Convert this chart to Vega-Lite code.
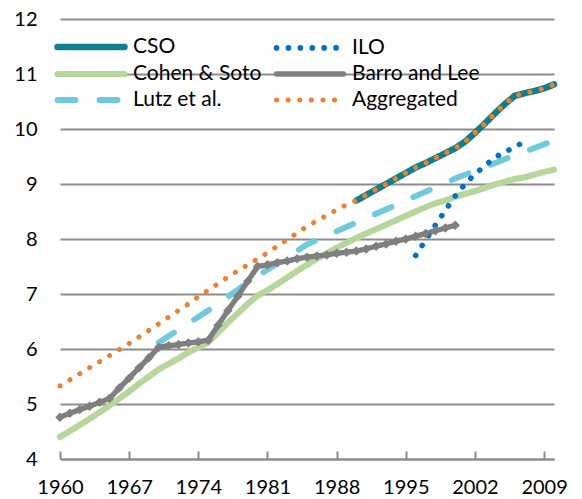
{
  "$schema": "https://vega.github.io/schema/vega-lite/v6.json",
  "width": 494,
  "height": 440,
  "autosize": "none",
  "padding": {"left": 60, "top": 19, "right": 28, "bottom": 40},
  "config": {
    "view": {"stroke": null},
    "font": "Lato",
    "legend": {
      "orient": "none",
      "legendX": -5,
      "legendY": 16,
      "columns": 2,
      "symbolType": "stroke",
      "symbolSize": 400,
      "symbolStrokeWidth": 5,
      "labelFontSize": 21,
      "labelFont": "Lato",
      "labelColor": "#000000",
      "labelLimit": 300,
      "labelOffset": 6,
      "columnPadding": 3,
      "rowPadding": 1,
      "padding": 0
    }
  },
  "data": {
    "values": [
      {"series": "Cohen & Soto", "year": 1960, "value": 4.40},
      {"series": "Cohen & Soto", "year": 1961, "value": 4.51},
      {"series": "Cohen & Soto", "year": 1962, "value": 4.62},
      {"series": "Cohen & Soto", "year": 1963, "value": 4.73},
      {"series": "Cohen & Soto", "year": 1964, "value": 4.85},
      {"series": "Cohen & Soto", "year": 1965, "value": 4.97},
      {"series": "Cohen & Soto", "year": 1966, "value": 5.10},
      {"series": "Cohen & Soto", "year": 1967, "value": 5.23},
      {"series": "Cohen & Soto", "year": 1968, "value": 5.37},
      {"series": "Cohen & Soto", "year": 1969, "value": 5.50},
      {"series": "Cohen & Soto", "year": 1970, "value": 5.63},
      {"series": "Cohen & Soto", "year": 1971, "value": 5.73},
      {"series": "Cohen & Soto", "year": 1972, "value": 5.83},
      {"series": "Cohen & Soto", "year": 1973, "value": 5.94},
      {"series": "Cohen & Soto", "year": 1974, "value": 6.03},
      {"series": "Cohen & Soto", "year": 1975, "value": 6.12},
      {"series": "Cohen & Soto", "year": 1976, "value": 6.30},
      {"series": "Cohen & Soto", "year": 1977, "value": 6.48},
      {"series": "Cohen & Soto", "year": 1978, "value": 6.65},
      {"series": "Cohen & Soto", "year": 1979, "value": 6.82},
      {"series": "Cohen & Soto", "year": 1980, "value": 6.97},
      {"series": "Cohen & Soto", "year": 1981, "value": 7.07},
      {"series": "Cohen & Soto", "year": 1982, "value": 7.18},
      {"series": "Cohen & Soto", "year": 1983, "value": 7.30},
      {"series": "Cohen & Soto", "year": 1984, "value": 7.42},
      {"series": "Cohen & Soto", "year": 1985, "value": 7.53},
      {"series": "Cohen & Soto", "year": 1986, "value": 7.64},
      {"series": "Cohen & Soto", "year": 1987, "value": 7.74},
      {"series": "Cohen & Soto", "year": 1988, "value": 7.84},
      {"series": "Cohen & Soto", "year": 1989, "value": 7.93},
      {"series": "Cohen & Soto", "year": 1990, "value": 8.02},
      {"series": "Cohen & Soto", "year": 1991, "value": 8.10},
      {"series": "Cohen & Soto", "year": 1992, "value": 8.18},
      {"series": "Cohen & Soto", "year": 1993, "value": 8.26},
      {"series": "Cohen & Soto", "year": 1994, "value": 8.34},
      {"series": "Cohen & Soto", "year": 1995, "value": 8.42},
      {"series": "Cohen & Soto", "year": 1996, "value": 8.50},
      {"series": "Cohen & Soto", "year": 1997, "value": 8.58},
      {"series": "Cohen & Soto", "year": 1998, "value": 8.65},
      {"series": "Cohen & Soto", "year": 1999, "value": 8.70},
      {"series": "Cohen & Soto", "year": 2000, "value": 8.77},
      {"series": "Cohen & Soto", "year": 2001, "value": 8.82},
      {"series": "Cohen & Soto", "year": 2002, "value": 8.87},
      {"series": "Cohen & Soto", "year": 2003, "value": 8.93},
      {"series": "Cohen & Soto", "year": 2004, "value": 8.99},
      {"series": "Cohen & Soto", "year": 2005, "value": 9.04},
      {"series": "Cohen & Soto", "year": 2006, "value": 9.09},
      {"series": "Cohen & Soto", "year": 2007, "value": 9.12},
      {"series": "Cohen & Soto", "year": 2008, "value": 9.17},
      {"series": "Cohen & Soto", "year": 2009, "value": 9.22},
      {"series": "Cohen & Soto", "year": 2010, "value": 9.26},
      {"series": "Lutz et al.", "year": 1970, "value": 6.12},
      {"series": "Lutz et al.", "year": 1975, "value": 6.70},
      {"series": "Lutz et al.", "year": 1980, "value": 7.33},
      {"series": "Lutz et al.", "year": 1985, "value": 7.90},
      {"series": "Lutz et al.", "year": 1990, "value": 8.30},
      {"series": "Lutz et al.", "year": 1995, "value": 8.70},
      {"series": "Lutz et al.", "year": 2000, "value": 9.10},
      {"series": "Lutz et al.", "year": 2005, "value": 9.45},
      {"series": "Lutz et al.", "year": 2010, "value": 9.79},
      {"series": "Barro and Lee", "year": 1960, "value": 4.76},
      {"series": "Barro and Lee", "year": 1961, "value": 4.83},
      {"series": "Barro and Lee", "year": 1962, "value": 4.90},
      {"series": "Barro and Lee", "year": 1963, "value": 4.96},
      {"series": "Barro and Lee", "year": 1964, "value": 5.03},
      {"series": "Barro and Lee", "year": 1965, "value": 5.10},
      {"series": "Barro and Lee", "year": 1966, "value": 5.29},
      {"series": "Barro and Lee", "year": 1967, "value": 5.47},
      {"series": "Barro and Lee", "year": 1968, "value": 5.66},
      {"series": "Barro and Lee", "year": 1969, "value": 5.84},
      {"series": "Barro and Lee", "year": 1970, "value": 6.03},
      {"series": "Barro and Lee", "year": 1971, "value": 6.06},
      {"series": "Barro and Lee", "year": 1972, "value": 6.08},
      {"series": "Barro and Lee", "year": 1973, "value": 6.11},
      {"series": "Barro and Lee", "year": 1974, "value": 6.13},
      {"series": "Barro and Lee", "year": 1975, "value": 6.16},
      {"series": "Barro and Lee", "year": 1976, "value": 6.43},
      {"series": "Barro and Lee", "year": 1977, "value": 6.70},
      {"series": "Barro and Lee", "year": 1978, "value": 6.96},
      {"series": "Barro and Lee", "year": 1979, "value": 7.23},
      {"series": "Barro and Lee", "year": 1980, "value": 7.50},
      {"series": "Barro and Lee", "year": 1981, "value": 7.53},
      {"series": "Barro and Lee", "year": 1982, "value": 7.57},
      {"series": "Barro and Lee", "year": 1983, "value": 7.60},
      {"series": "Barro and Lee", "year": 1984, "value": 7.64},
      {"series": "Barro and Lee", "year": 1985, "value": 7.67},
      {"series": "Barro and Lee", "year": 1986, "value": 7.69},
      {"series": "Barro and Lee", "year": 1987, "value": 7.71},
      {"series": "Barro and Lee", "year": 1988, "value": 7.74},
      {"series": "Barro and Lee", "year": 1989, "value": 7.76},
      {"series": "Barro and Lee", "year": 1990, "value": 7.78},
      {"series": "Barro and Lee", "year": 1991, "value": 7.82},
      {"series": "Barro and Lee", "year": 1992, "value": 7.87},
      {"series": "Barro and Lee", "year": 1993, "value": 7.91},
      {"series": "Barro and Lee", "year": 1994, "value": 7.96},
      {"series": "Barro and Lee", "year": 1995, "value": 8.00},
      {"series": "Barro and Lee", "year": 1996, "value": 8.05},
      {"series": "Barro and Lee", "year": 1997, "value": 8.10},
      {"series": "Barro and Lee", "year": 1998, "value": 8.15},
      {"series": "Barro and Lee", "year": 1999, "value": 8.20},
      {"series": "Barro and Lee", "year": 2000, "value": 8.25},
      {"series": "ILO", "year": 1996, "value": 7.70},
      {"series": "ILO", "year": 1997, "value": 7.98},
      {"series": "ILO", "year": 1998, "value": 8.25},
      {"series": "ILO", "year": 1999, "value": 8.52},
      {"series": "ILO", "year": 2000, "value": 8.78},
      {"series": "ILO", "year": 2001, "value": 9.00},
      {"series": "ILO", "year": 2002, "value": 9.18},
      {"series": "ILO", "year": 2003, "value": 9.33},
      {"series": "ILO", "year": 2004, "value": 9.48},
      {"series": "ILO", "year": 2005, "value": 9.58},
      {"series": "ILO", "year": 2006, "value": 9.67},
      {"series": "ILO", "year": 2007, "value": 9.77},
      {"series": "CSO", "year": 1990, "value": 8.70},
      {"series": "CSO", "year": 1991, "value": 8.80},
      {"series": "CSO", "year": 1992, "value": 8.90},
      {"series": "CSO", "year": 1993, "value": 9.00},
      {"series": "CSO", "year": 1994, "value": 9.10},
      {"series": "CSO", "year": 1995, "value": 9.20},
      {"series": "CSO", "year": 1996, "value": 9.30},
      {"series": "CSO", "year": 1997, "value": 9.38},
      {"series": "CSO", "year": 1998, "value": 9.47},
      {"series": "CSO", "year": 1999, "value": 9.56},
      {"series": "CSO", "year": 2000, "value": 9.65},
      {"series": "CSO", "year": 2001, "value": 9.77},
      {"series": "CSO", "year": 2002, "value": 9.93},
      {"series": "CSO", "year": 2003, "value": 10.10},
      {"series": "CSO", "year": 2004, "value": 10.28},
      {"series": "CSO", "year": 2005, "value": 10.45},
      {"series": "CSO", "year": 2006, "value": 10.60},
      {"series": "CSO", "year": 2007, "value": 10.65},
      {"series": "CSO", "year": 2008, "value": 10.69},
      {"series": "CSO", "year": 2009, "value": 10.74},
      {"series": "CSO", "year": 2010, "value": 10.81},
      {"series": "Aggregated", "year": 1960, "value": 5.33},
      {"series": "Aggregated", "year": 1961, "value": 5.44},
      {"series": "Aggregated", "year": 1962, "value": 5.55},
      {"series": "Aggregated", "year": 1963, "value": 5.66},
      {"series": "Aggregated", "year": 1964, "value": 5.77},
      {"series": "Aggregated", "year": 1965, "value": 5.88},
      {"series": "Aggregated", "year": 1966, "value": 5.99},
      {"series": "Aggregated", "year": 1967, "value": 6.10},
      {"series": "Aggregated", "year": 1968, "value": 6.22},
      {"series": "Aggregated", "year": 1969, "value": 6.34},
      {"series": "Aggregated", "year": 1970, "value": 6.46},
      {"series": "Aggregated", "year": 1971, "value": 6.58},
      {"series": "Aggregated", "year": 1972, "value": 6.70},
      {"series": "Aggregated", "year": 1973, "value": 6.82},
      {"series": "Aggregated", "year": 1974, "value": 6.95},
      {"series": "Aggregated", "year": 1975, "value": 7.07},
      {"series": "Aggregated", "year": 1976, "value": 7.19},
      {"series": "Aggregated", "year": 1977, "value": 7.31},
      {"series": "Aggregated", "year": 1978, "value": 7.42},
      {"series": "Aggregated", "year": 1979, "value": 7.53},
      {"series": "Aggregated", "year": 1980, "value": 7.64},
      {"series": "Aggregated", "year": 1981, "value": 7.75},
      {"series": "Aggregated", "year": 1982, "value": 7.87},
      {"series": "Aggregated", "year": 1983, "value": 7.99},
      {"series": "Aggregated", "year": 1984, "value": 8.11},
      {"series": "Aggregated", "year": 1985, "value": 8.23},
      {"series": "Aggregated", "year": 1986, "value": 8.33},
      {"series": "Aggregated", "year": 1987, "value": 8.43},
      {"series": "Aggregated", "year": 1988, "value": 8.53},
      {"series": "Aggregated", "year": 1989, "value": 8.62},
      {"series": "Aggregated", "year": 1990, "value": 8.70},
      {"series": "Aggregated", "year": 1991, "value": 8.80},
      {"series": "Aggregated", "year": 1992, "value": 8.90},
      {"series": "Aggregated", "year": 1993, "value": 9.00},
      {"series": "Aggregated", "year": 1994, "value": 9.10},
      {"series": "Aggregated", "year": 1995, "value": 9.20},
      {"series": "Aggregated", "year": 1996, "value": 9.30},
      {"series": "Aggregated", "year": 1997, "value": 9.38},
      {"series": "Aggregated", "year": 1998, "value": 9.47},
      {"series": "Aggregated", "year": 1999, "value": 9.56},
      {"series": "Aggregated", "year": 2000, "value": 9.65},
      {"series": "Aggregated", "year": 2001, "value": 9.77},
      {"series": "Aggregated", "year": 2002, "value": 9.93},
      {"series": "Aggregated", "year": 2003, "value": 10.10},
      {"series": "Aggregated", "year": 2004, "value": 10.28},
      {"series": "Aggregated", "year": 2005, "value": 10.45},
      {"series": "Aggregated", "year": 2006, "value": 10.60},
      {"series": "Aggregated", "year": 2007, "value": 10.65},
      {"series": "Aggregated", "year": 2008, "value": 10.69},
      {"series": "Aggregated", "year": 2009, "value": 10.74},
      {"series": "Aggregated", "year": 2010, "value": 10.81}
    ]
  },
  "layer": [
    {
      "mark": {"type": "line", "strokeCap": "round", "strokeJoin": "round"},
      "encoding": {
        "x": {
          "field": "year", "type": "quantitative",
          "scale": {"domain": [1960, 2010], "nice": false, "zero": false},
          "axis": {
            "title": null, "values": [1960, 1967, 1974, 1981, 1988, 1995, 2002, 2009],
            "format": "d", "grid": false, "labelFontSize": 20, "labelColor": "#000000",
            "domainColor": "#8c8c8c", "domainWidth": 2, "tickColor": "#8c8c8c", "tickWidth": 2,
            "tickSize": -8, "labelPadding": 26, "labelFlush": false, "labelOverlap": false
          }
        },
        "y": {
          "field": "value", "type": "quantitative",
          "scale": {"domain": [4, 12], "nice": false, "zero": false},
          "axis": {
            "title": null, "values": [4, 5, 6, 7, 8, 9, 10, 11, 12],
            "grid": true, "gridColor": "#8c8c8c", "gridWidth": 2,
            "domain": false, "ticks": false, "labelFontSize": 20, "labelColor": "#000000",
            "labelPadding": 23
          }
        },
        "color": {
          "field": "series", "type": "nominal",
          "scale": {
            "domain": ["CSO", "Cohen & Soto", "Lutz et al.", "ILO", "Barro and Lee", "Aggregated"],
            "range": ["#0f7f8c", "#b6d69b", "#6fcbdc", "#0070c8", "#7f7f7f", "#f07f2f"]
          },
          "legend": {
            "title": null,
            "encode": {
              "symbols": {"update": {"strokeCap": {"value": "round"}, "size": {"value": 4489}, "x": {"value": 36}, "y": {"value": 12}}},
              "labels": {"update": {"x": {"value": 78}, "y": {"value": 12}}}
            }
          }
        },
        "strokeDash": {
          "field": "series", "type": "nominal",
          "scale": {
            "domain": ["CSO", "Cohen & Soto", "Lutz et al.", "ILO", "Barro and Lee", "Aggregated"],
            "range": [[1, 0], [1, 0], [18, 24], [0.1, 11.8], [1, 0], [0.1, 11.5]]
          },
          "legend": {
            "title": null,
            "encode": {
              "symbols": {"update": {"strokeCap": {"value": "round"}, "size": {"value": 4489}, "x": {"value": 36}, "y": {"value": 12}}},
              "labels": {"update": {"x": {"value": 78}, "y": {"value": 12}}}
            }
          }
        },
        "strokeWidth": {
          "field": "series", "type": "ordinal",
          "scale": {
            "domain": ["CSO", "Cohen & Soto", "Lutz et al.", "ILO", "Barro and Lee", "Aggregated"],
            "range": [6.5, 5, 5, 5.5, 3, 5.5]
          },
          "legend": null
        }
      }
    },
    {
      "transform": [{"filter": "datum.series === 'Barro and Lee'"}],
      "mark": {"type": "point", "shape": "diamond", "filled": true, "color": "#7f7f7f", "size": 90, "opacity": 1},
      "encoding": {
        "x": {"field": "year", "type": "quantitative"},
        "y": {"field": "value", "type": "quantitative"}
      }
    }
  ]
}
